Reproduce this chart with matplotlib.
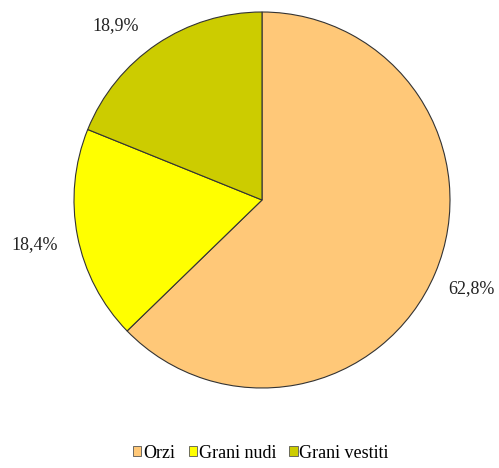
import numpy as np
import matplotlib
matplotlib.use("Agg")
import matplotlib.pyplot as plt
from matplotlib.patches import Patch

categories = ["Orzi", "Grani nudi", "Grani vestiti"]
shares = [62.8, 18.4, 18.9]
colors = ["#FFC878", "#FFFF00", "#CCCC00"]

plt.rcParams["font.family"] = ["Liberation Serif", "DejaVu Serif"]

fig = plt.figure(figsize=(4.99, 4.68), dpi=100)
ax = fig.add_axes([74 / 499, 1 - 388 / 468, 376 / 499, 376 / 468])

wedges, _ = ax.pie(
    shares,
    colors=colors,
    startangle=90,
    counterclock=False,
    wedgeprops=dict(edgecolor="#333333", linewidth=0.8),
)
ax.set_xlim(-1, 1)
ax.set_ylim(-1, 1)
ax.set_aspect("equal")

# percentage labels just outside each wedge (small angular nudge for readability)
label_radius = [1.21, 1.23, 1.21]
angle_nudge = [0.0, 0.0, 6.0]
for w, val, r, dth in zip(wedges, shares, label_radius, angle_nudge):
    th = np.deg2rad((w.theta1 + w.theta2) / 2 + dth)
    ax.text(r * np.cos(th), r * np.sin(th), f"{val:.1f}%".replace(".", ","),
            ha="center", va="center", fontsize=13, color="#222222")

handles = [Patch(facecolor=c, edgecolor="#555555", linewidth=0.6, label=l)
           for c, l in zip(colors, categories)]
fig.legend(handles=handles, loc="center", bbox_to_anchor=(261 / 499, 1 - 453 / 468),
           ncol=3, frameon=False, fontsize=13, handlelength=0.45, handleheight=0.45,
           handletextpad=0.1, columnspacing=0.75, borderpad=0)

fig.savefig("out.png", dpi=100)
